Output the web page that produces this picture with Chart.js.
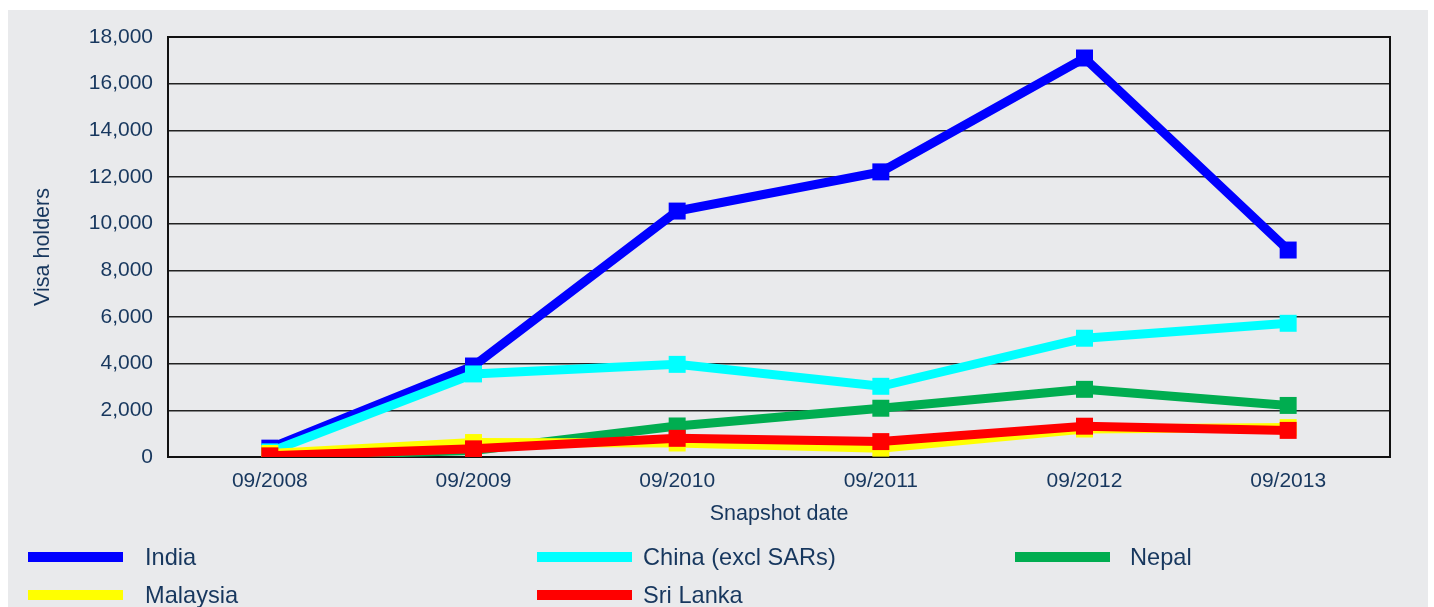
<!DOCTYPE html>
<html>
<head>
<meta charset="utf-8">
<script src="https://cdn.jsdelivr.net/npm/chart.js@4.4.0/dist/chart.umd.min.js"></script>
<style>
  body { margin: 0; background: #ffffff; }
  #panel { position: absolute; left: 8px; top: 10px; width: 1420px; height: 597px; background: #e9eaec; }
  #wrap { position: absolute; left: 0; top: 0; width: 1434px; height: 607px; }
  #legend { position: absolute; left: 0; top: 0; width: 1434px; height: 607px; pointer-events: none;
    font-family: "Liberation Sans", Arial, sans-serif; font-size: 23.6px; color: #17375e; }
  .item { position: absolute; height: 26px; line-height: 26px; white-space: nowrap; }
  .swatch { position: absolute; left: 0; top: 8px; width: 95px; height: 10px; }
  .label { position: absolute; top: 0; }
</style>
</head>
<body>
<div id="panel"></div>
<div id="wrap"><canvas id="visa_chart" width="1434" height="607"></canvas></div>
<div id="legend"></div>
<script>

//
// Data
//
const SNAPSHOT_DATES = ['09/2008', '09/2009', '09/2010', '09/2011', '09/2012', '09/2013'];
const SERIES_NAMES = ['India', 'China (excl SARs)', 'Nepal', 'Malaysia', 'Sri Lanka'];
const INDIA = [380, 3900, 10540, 12220, 17100, 8870];
const CHINA = [220, 3560, 3970, 3030, 5090, 5730];
const NEPAL = [30, 280, 1330, 2090, 2900, 2210];
const MALAYSIA = [150, 620, 600, 380, 1200, 1260];
const SRI_LANKA = [50, 350, 800, 660, 1320, 1140];
const Y_TICKS = [0, 2000, 4000, 6000, 8000, 10000, 12000, 14000, 16000, 18000];

const SERIES_VALUES = [INDIA, CHINA, NEPAL, MALAYSIA, SRI_LANKA];
const SERIES_COLORS = ['#0000ff', '#00ffff', '#00ad50', '#ffff00', '#ff0000'];

const TEXT_COLOR = '#17375e';
const FONT_FAMILY = '"Liberation Sans", Arial, sans-serif';

//
// Plot frame
//
const frame_plugin = {
  id: 'frame',
  beforeDatasetsDraw(chart) {
    let ctx = chart.ctx;
    let a = chart.chartArea;
    ctx.save();
    ctx.strokeStyle = '#111111';
    ctx.lineWidth = 2;
    ctx.strokeRect(a.left, a.top, a.right - a.left, a.bottom - a.top);
    ctx.restore();
  }
};

let datasets = SERIES_NAMES.map((name, i) => ({
  label: name,
  data: SERIES_VALUES[i],
  borderColor: SERIES_COLORS[i],
  backgroundColor: SERIES_COLORS[i],
  borderWidth: 9,
  pointStyle: 'rect',
  pointRadius: 12,
  pointHoverRadius: 12,
  pointBorderWidth: 0,
  tension: 0,
  order: SERIES_NAMES.length - i
}));

new Chart(document.getElementById('visa_chart').getContext('2d'), {
  type: 'line',
  data: { labels: SNAPSHOT_DATES, datasets: datasets },
  plugins: [frame_plugin],
  options: {
    responsive: false,
    animation: false,
    layout: { padding: { left: 0, right: 44, top: 37, bottom: 0 } },
    plugins: { legend: { display: false }, tooltip: { enabled: false } },
    scales: {
      x: {
        offset: true,
        grid: { display: false, drawTicks: false },
        border: { display: false },
        ticks: { color: TEXT_COLOR, font: { family: FONT_FAMILY, size: 21 }, padding: 12, maxRotation: 0 },
        title: { display: true, text: 'Snapshot date', color: TEXT_COLOR,
          font: { family: FONT_FAMILY, size: 21.5 }, padding: { top: 0, bottom: 80 } },
        afterFit(scale) { scale.height = 150; }
      },
      y: {
        min: 0,
        max: 18000,
        afterBuildTicks(scale) { scale.ticks = Y_TICKS.map(v => ({ value: v })); },
        grid: { color: '#222222', lineWidth: 1.5, drawTicks: false },
        border: { display: false },
        ticks: { color: TEXT_COLOR, font: { family: FONT_FAMILY, size: 21 }, padding: 15,
          callback: v => v.toLocaleString('en-US') },
        title: { display: true, text: 'Visa holders', color: TEXT_COLOR,
          font: { family: FONT_FAMILY, size: 21.5 }, padding: { top: 30, bottom: 0 } },
        afterFit(scale) { scale.width = 168; }
      }
    }
  }
});

//
// Legend
//
const LEGEND_SLOTS = [[28, 557], [537, 557], [1015, 557], [28, 595], [537, 595]];
const LEGEND_TEXT_GAP = [117, 106, 115, 117, 106];
let legend = document.getElementById('legend');
SERIES_NAMES.forEach((name, i) => {
  let item = document.createElement('div');
  item.className = 'item';
  item.style.left = LEGEND_SLOTS[i][0] + 'px';
  item.style.top = (LEGEND_SLOTS[i][1] - 13) + 'px';
  item.innerHTML = '<div class="swatch" style="background:' + SERIES_COLORS[i] + '"></div>' +
    '<div class="label" style="left:' + LEGEND_TEXT_GAP[i] + 'px">' + name + '</div>';
  legend.appendChild(item);
});
</script>
</body>
</html>
